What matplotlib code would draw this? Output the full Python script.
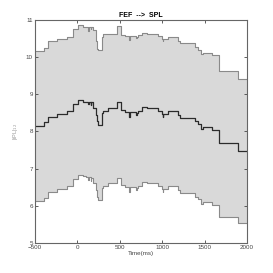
import matplotlib
matplotlib.use('Agg')
import matplotlib.pyplot as plt

plt.rcParams['font.family'] = ['Liberation Sans Narrow', 'Liberation Sans', 'DejaVu Sans']

# step edges (ms) and values
time_ms = [-500, -394, -350, -245, -126, -48, 11, 70, 100, 125, 140, 155, 165, 180,
           215, 230, 246, 286, 300, 364, 463, 514, 561, 610, 625, 690, 705, 715,
           758, 817, 954, 994, 1005, 1015, 1030, 1068, 1186, 1210, 1387, 1426,
           1457, 1485, 1583, 1673, 1898, 2000]

mean_val = [8.16, 8.25, 8.40, 8.46, 8.54, 8.73, 8.85, 8.80, 8.78, 8.74, 8.80, 8.70,
            8.78, 8.63, 8.45, 8.27, 8.18, 8.49, 8.54, 8.63, 8.78, 8.58, 8.52, 8.40,
            8.52, 8.45, 8.50, 8.56, 8.67, 8.63, 8.56, 8.48, 8.40, 8.48, 8.46, 8.54,
            8.44, 8.37, 8.27, 8.20, 8.06, 8.12, 8.04, 7.69, 7.48, 7.48]

upper_val = [10.17, 10.24, 10.42, 10.48, 10.55, 10.75, 10.87, 10.82, 10.80, 10.71,
             10.80, 10.76, 10.80, 10.73, 10.42, 10.21, 10.18, 10.55, 10.62, 10.62,
             10.84, 10.60, 10.58, 10.45, 10.57, 10.52, 10.55, 10.60, 10.66, 10.62,
             10.56, 10.50, 10.42, 10.50, 10.48, 10.53, 10.44, 10.37, 10.27, 10.20,
             10.09, 10.12, 10.06, 9.63, 9.41, 9.41]

lower_val = [6.14, 6.22, 6.38, 6.45, 6.52, 6.72, 6.84, 6.79, 6.77, 6.70, 6.78, 6.68,
             6.76, 6.61, 6.43, 6.25, 6.16, 6.48, 6.52, 6.61, 6.76, 6.56, 6.50, 6.38,
             6.50, 6.43, 6.48, 6.54, 6.65, 6.61, 6.54, 6.46, 6.38, 6.46, 6.44, 6.52,
             6.42, 6.35, 6.25, 6.18, 6.04, 6.10, 6.02, 5.69, 5.53, 5.53]

fig = plt.figure(figsize=(2.73, 2.73), dpi=100)
ax = fig.add_axes([0.128, 0.11, 0.777, 0.817])

ax.fill_between(time_ms, lower_val, upper_val, step='post', color='#d9d9d9', lw=0)
ax.step(time_ms, upper_val, where='post', color='#8a8a8a', lw=0.8)
ax.step(time_ms, lower_val, where='post', color='#8a8a8a', lw=0.8)
ax.step(time_ms, mean_val, where='post', color='#2b2b2b', lw=0.9)

ax.set_xlim(-500, 2000)
ax.set_ylim(5, 11)
ax.set_xticks([-500, 0, 500, 1000, 1500, 2000])
ax.set_yticks([5, 6, 7, 8, 9, 10, 11])
ax.tick_params(direction='in', length=2.5, width=0.6, labelsize=4.5,
               colors='#444444', top=True, right=True, pad=1.5)
for s in ax.spines.values():
    s.set_color('#666666')
    s.set_linewidth(0.8)

ax.set_title('FEF  -->  SPL', fontsize=5, fontweight='bold', pad=2)
ax.set_xlabel('Time(ms)', fontsize=4.5, color='#444444', labelpad=1)
ax.set_ylabel('|iPL|$_{12}$', fontsize=4, color='#999999', labelpad=4)

fig.savefig('out.png', dpi=100)
